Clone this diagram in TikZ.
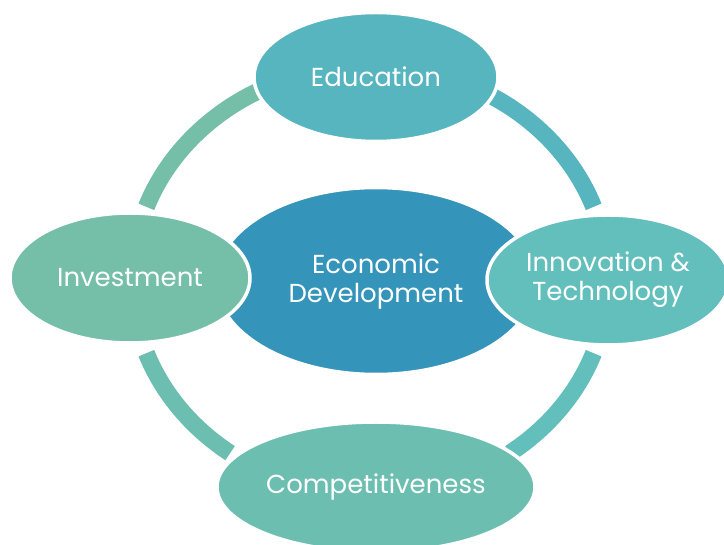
\documentclass[tikz,border=0pt]{standalone}
\usepackage{fontspec}
\setmainfont{Poppins}
\usetikzlibrary{shapes.geometric}
\definecolor{edu}{HTML}{57B5BF}
\definecolor{eco}{HTML}{3494BA}
\definecolor{inv}{HTML}{75BEA7}
\definecolor{inn}{HTML}{62BFBC}
\definecolor{comp}{HTML}{6CBFB0}

\begin{document}
\begin{tikzpicture}[x=1pt,y=-1pt,
	blob/.style={ellipse,draw=white,line width=3.5pt,text=white,inner sep=0pt,align=center,font=\fontsize{26}{29}\selectfont},
	band/.style={line width=17pt}]
		\useasboundingbox (0,0) rectangle (724,545);
		\coordinate (O) at (370,280);
		% ring pieces
		\draw[band,inv] (O) ++(200:238 and 214) arc[start angle=200,end angle=242,x radius=238,y radius=214];
		\draw[band,edu] (O) ++(298:238 and 214) arc[start angle=298,end angle=340,x radius=238,y radius=214];
		\draw[band,inn] (O) ++(20:238 and 214) arc[start angle=20,end angle=54,x radius=238,y radius=214];
		\draw[band,comp] (O) ++(126:238 and 214) arc[start angle=126,end angle=160,x radius=238,y radius=214];
		% ellipses
		\node[blob,fill=eco,minimum width=320,minimum height=187] (C) at (376,281) {Economic\\Development};
		\node[blob,fill=edu,minimum width=244,minimum height=129] (E) at (376,77) {Education};
		\node[blob,fill=inv,minimum width=240,minimum height=130] (I) at (130,278) {Investment};
		\node[blob,fill=inn,minimum width=242,minimum height=130] (T) at (608,280) {Innovation \&\\Technology};
		\node[blob,fill=comp,minimum width=318,minimum height=130] (K) at (376,487) {Competitiveness};
	\end{tikzpicture}
\end{document}
